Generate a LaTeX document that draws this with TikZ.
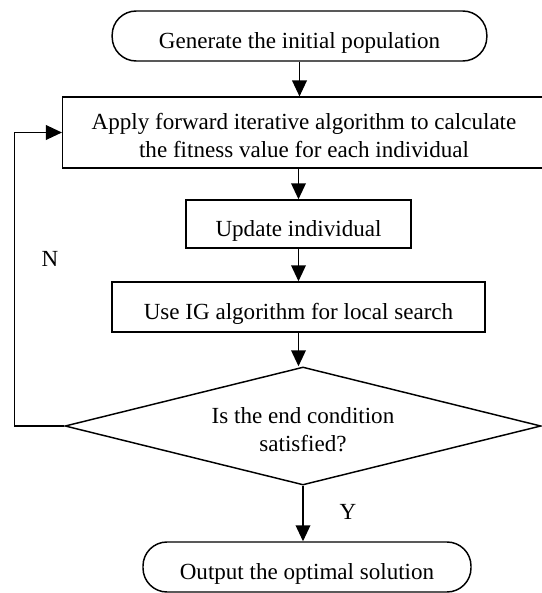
\documentclass[tikz,border=0pt]{standalone}
\usepackage{fontspec}
\setmainfont{Liberation Serif}
\usetikzlibrary{shapes.geometric,arrows.meta}

\tikzset{
  flowline/.style={line width=1.1pt,-{Triangle[width=11pt,length=12pt]}},
  termbox/.style={draw,line width=1.1pt,rounded corners=18pt,inner sep=0pt,text height=22pt,text depth=4pt},
  procbox/.style={draw,line width=1.1pt,inner sep=0pt,align=center,text height=22pt,text depth=4pt},
  twoline/.style={text height=42pt,text depth=4pt},
  testbox/.style={draw,line width=1.1pt,diamond,shape aspect=4.03,inner sep=0pt,align=center},
}

\begin{document}
\begin{tikzpicture}[x=0.75pt,y=0.75pt,yscale=-1,xscale=1,font=\fontsize{17.3}{21}\selectfont]
\useasboundingbox (0,0) rectangle (542,593);
\clip (0,0) rectangle (542,593);

%Shape: Terminal [start]
\node[termbox,minimum width=281pt,minimum height=37.5pt] (start) at (299.5,36) {Generate the initial population};
%Shape: Rectangle [fitness]
\node[procbox,twoline,minimum width=362pt,minimum height=53pt] (fit) at (304,132.5) {Apply forward iterative algorithm to calculate\\the fitness value for each individual};
%Shape: Rectangle [update]
\node[procbox,minimum width=168.75pt,minimum height=36pt] (upd) at (298.5,224) {Update individual};
%Shape: Rectangle [local search]
\node[procbox,minimum width=279.75pt,minimum height=37.5pt] (ls) at (298.5,307) {Use IG algorithm for local search};
%Shape: Diamond [test]
\node[testbox,twoline,minimum width=357pt,minimum height=88.5pt] (cond) at (303,426) {Is the end condition\\satisfied?};
%Shape: Terminal [stop]
\node[termbox,minimum width=246pt,minimum height=37.5pt] (stop) at (307,567) {Output the optimal solution};

%Straight Lines
\draw[flowline] (start.south) -- (start.south |- fit.north);
\draw[flowline] (upd.north |- fit.south) -- (upd.north);
\draw[flowline] (upd) -- (ls);
\draw[flowline] (ls.south) -- (ls.south |- cond.north);
\draw[flowline] (cond.south) -- (cond.south |- stop.north);
%Loop back
\draw[flowline] (cond.west) -- ++(-50,0) |- (fit.west);

% Text Node
\node (yes) at (348,512) {Y};
% Text Node
\node (no) at (50,259) {N};

\end{tikzpicture}
\end{document}
